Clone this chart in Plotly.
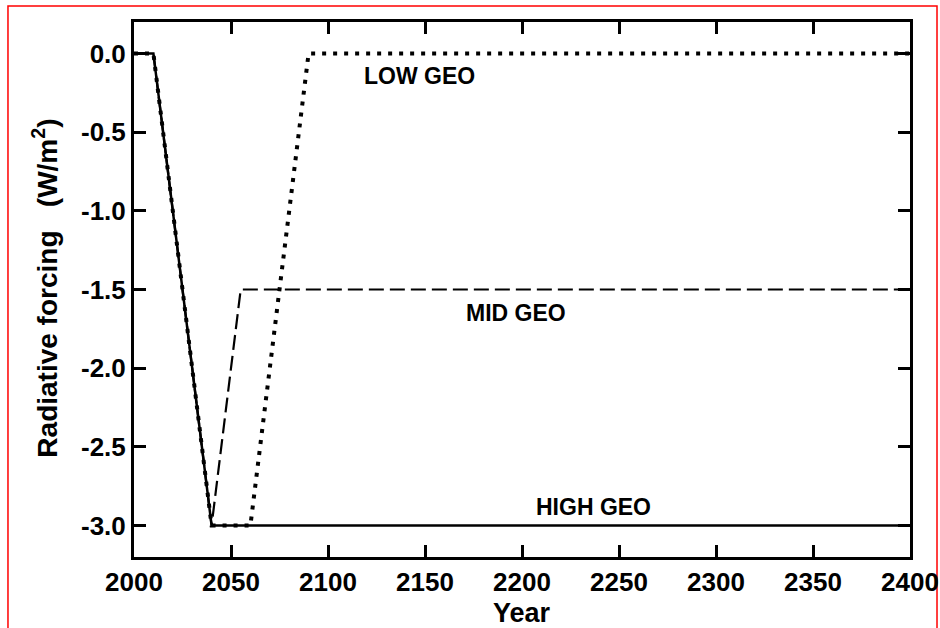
import plotly.graph_objects as go

years_high = [2000, 2010, 2040, 2400]
rf_high = [0.0, 0.0, -3.0, -3.0]

years_mid = [2000, 2010, 2040, 2055, 2400]
rf_mid = [0.0, 0.0, -3.0, -1.5, -1.5]

years_low = [2000, 2010, 2040, 2060, 2090, 2400]
rf_low = [0.0, 0.0, -3.0, -3.0, 0.0, 0.0]

label_text = ["LOW GEO", "MID GEO", "HIGH GEO"]
label_x = [2147, 2197, 2237]
label_y = [-0.14, -1.65, -2.88]

x_ticks = [2000, 2050, 2100, 2150, 2200, 2250, 2300, 2350, 2400]
y_ticks = [0.0, -0.5, -1.0, -1.5, -2.0, -2.5, -3.0]

font_family = "Liberation Sans, Arial, sans-serif"

fig = go.Figure()
fig.add_trace(go.Scatter(x=years_high, y=rf_high, mode="lines",
                         line=dict(color="black", width=2.5), showlegend=False))
fig.add_trace(go.Scatter(x=years_mid, y=rf_mid, mode="lines",
                         line=dict(color="black", width=2.2, dash="15px,6px"), showlegend=False))
fig.add_trace(go.Scatter(x=years_low, y=rf_low, mode="lines",
                         line=dict(color="black", width=4, dash="4px,7px"), showlegend=False))

for t, x, y in zip(label_text, label_x, label_y):
    fig.add_annotation(x=x, y=y, text="<b>%s</b>" % t, showarrow=False,
                       font=dict(family=font_family, size=23, color="black"),
                       xanchor="center", yanchor="middle")

# axis titles
fig.add_annotation(xref="paper", yref="paper", x=0.5, y=-0.105,
                   text="<b>Year</b>", showarrow=False,
                   font=dict(family=font_family, size=27, color="black"),
                   xanchor="center", yanchor="middle")
fig.add_annotation(xref="paper", yref="paper", x=-0.115, y=0.503,
                   text="<b>Radiative forcing\u00a0\u00a0\u00a0(W/m<sup>2</sup>)</b>",
                   showarrow=False, textangle=-90,
                   font=dict(family=font_family, size=28, color="black"),
                   xanchor="center", yanchor="middle")

axis_common = dict(showline=True, linecolor="black", linewidth=3, mirror="ticks",
                   ticks="inside", ticklen=12, tickwidth=2.5, tickcolor="black",
                   showgrid=False, zeroline=False, automargin=False,
                   tickfont=dict(family=font_family, size=26, color="black"))

fig.update_xaxes(range=[2000, 2400], tickvals=x_ticks,
                 ticktext=["<b>%d</b>" % v for v in x_ticks],
                 **axis_common)
fig.update_yaxes(range=[-3.2, 0.2], tickvals=y_ticks,
                 ticktext=["<b>%.1f</b>" % v for v in y_ticks],
                 **axis_common)

fig.add_shape(type="rect", xref="paper", yref="paper",
              x0=-0.1624, x1=1.0348, y0=-0.2, y1=1.0299,
              line=dict(color="red", width=1.5), fillcolor="rgba(0,0,0,0)", layer="below")

fig.update_layout(width=940, height=628, plot_bgcolor="white", paper_bgcolor="white",
                  margin=dict(l=134, r=30, t=22, b=71), showlegend=False)

fig.write_html("out.html", config={"displayModeBar": False},
               post_script="document.body.style.margin='0';document.body.style.overflow='hidden';")
